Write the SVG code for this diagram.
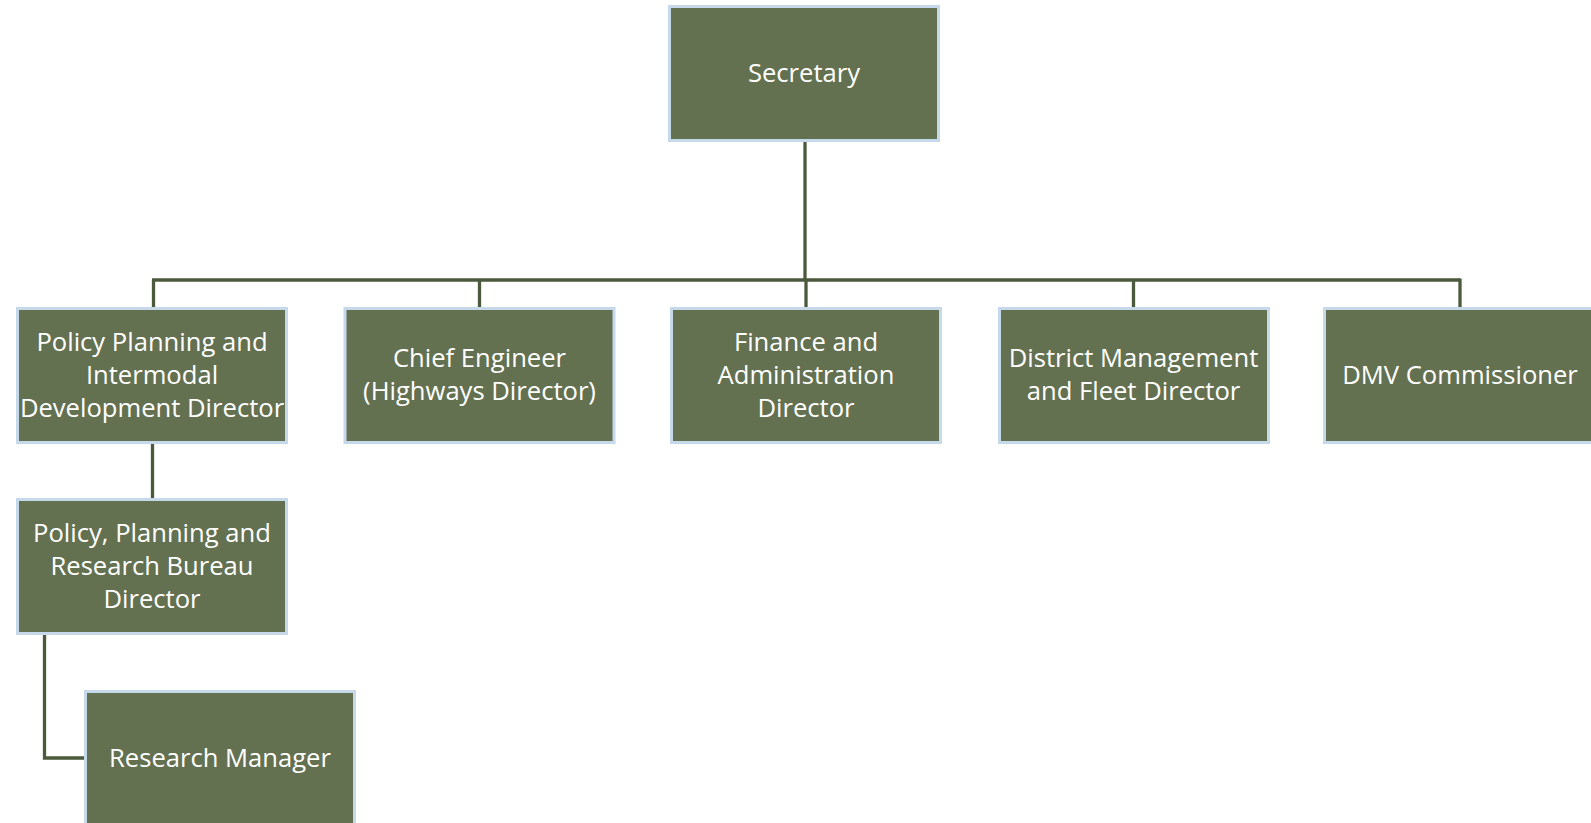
<svg xmlns="http://www.w3.org/2000/svg" width="1591" height="823" viewBox="0 0 1591 823">
<style>
.box{fill:#647151;stroke:#c6d9ea;stroke-width:3}
.lbl{font-family:"Open Sans","Liberation Sans",sans-serif;font-size:25.6px;fill:#ffffff;text-anchor:middle}
.conn{fill:none;stroke:#4b5a3c;stroke-width:3.3}
</style>
<rect width="1591" height="823" fill="#ffffff"/>
<g id="connectors">
<line class="conn" x1="805" y1="142" x2="805" y2="280"/>
<line class="conn" x1="152" y1="280" x2="1460" y2="280"/>
<line class="conn" x1="153.5" y1="280" x2="153.5" y2="307"/>
<line class="conn" x1="479.5" y1="280" x2="479.5" y2="307"/>
<line class="conn" x1="806" y1="280" x2="806" y2="307"/>
<line class="conn" x1="1133.5" y1="280" x2="1133.5" y2="307"/>
<line class="conn" x1="1460" y1="278.5" x2="1460" y2="307"/>
<line class="conn" x1="152.5" y1="444" x2="152.5" y2="498"/>
<polyline class="conn" points="44.5,634 44.5,758 84,758"/>
</g>
<g id="secretary">
<rect class="box" x="669.5" y="6.5" width="269" height="134"/>
<text class="lbl" x="804" y="82">Secretary</text>
</g>
<g id="policy-planning">
<rect class="box" x="17.5" y="308.5" width="269" height="134"/>
<text class="lbl" x="152" y="351">Policy Planning and</text>
<text class="lbl" x="152" y="384">Intermodal</text>
<text class="lbl" x="152" y="417">Development Director</text>
</g>
<g id="chief-engineer">
<rect class="box" x="345" y="308.5" width="269" height="134"/>
<text class="lbl" x="479.5" y="367">Chief Engineer</text>
<text class="lbl" x="479.5" y="400">(Highways Director)</text>
</g>
<g id="finance">
<rect class="box" x="671.5" y="308.5" width="269" height="134"/>
<text class="lbl" x="806" y="351">Finance and</text>
<text class="lbl" x="806" y="384">Administration</text>
<text class="lbl" x="806" y="417">Director</text>
</g>
<g id="district">
<rect class="box" x="999.5" y="308.5" width="269" height="134"/>
<text class="lbl" x="1133.5" y="367">District Management</text>
<text class="lbl" x="1133.5" y="400">and Fleet Director</text>
</g>
<g id="dmv">
<rect class="box" x="1324.5" y="308.5" width="269" height="134"/>
<text class="lbl" x="1460" y="384">DMV Commissioner</text>
</g>
<g id="research-bureau">
<rect class="box" x="17.5" y="499.5" width="269" height="134"/>
<text class="lbl" x="152" y="542">Policy, Planning and</text>
<text class="lbl" x="152" y="575">Research Bureau</text>
<text class="lbl" x="152" y="608">Director</text>
</g>
<g id="research-manager">
<rect class="box" x="85.5" y="691.5" width="269" height="134"/>
<text class="lbl" x="220" y="767">Research Manager</text>
</g>
</svg>
